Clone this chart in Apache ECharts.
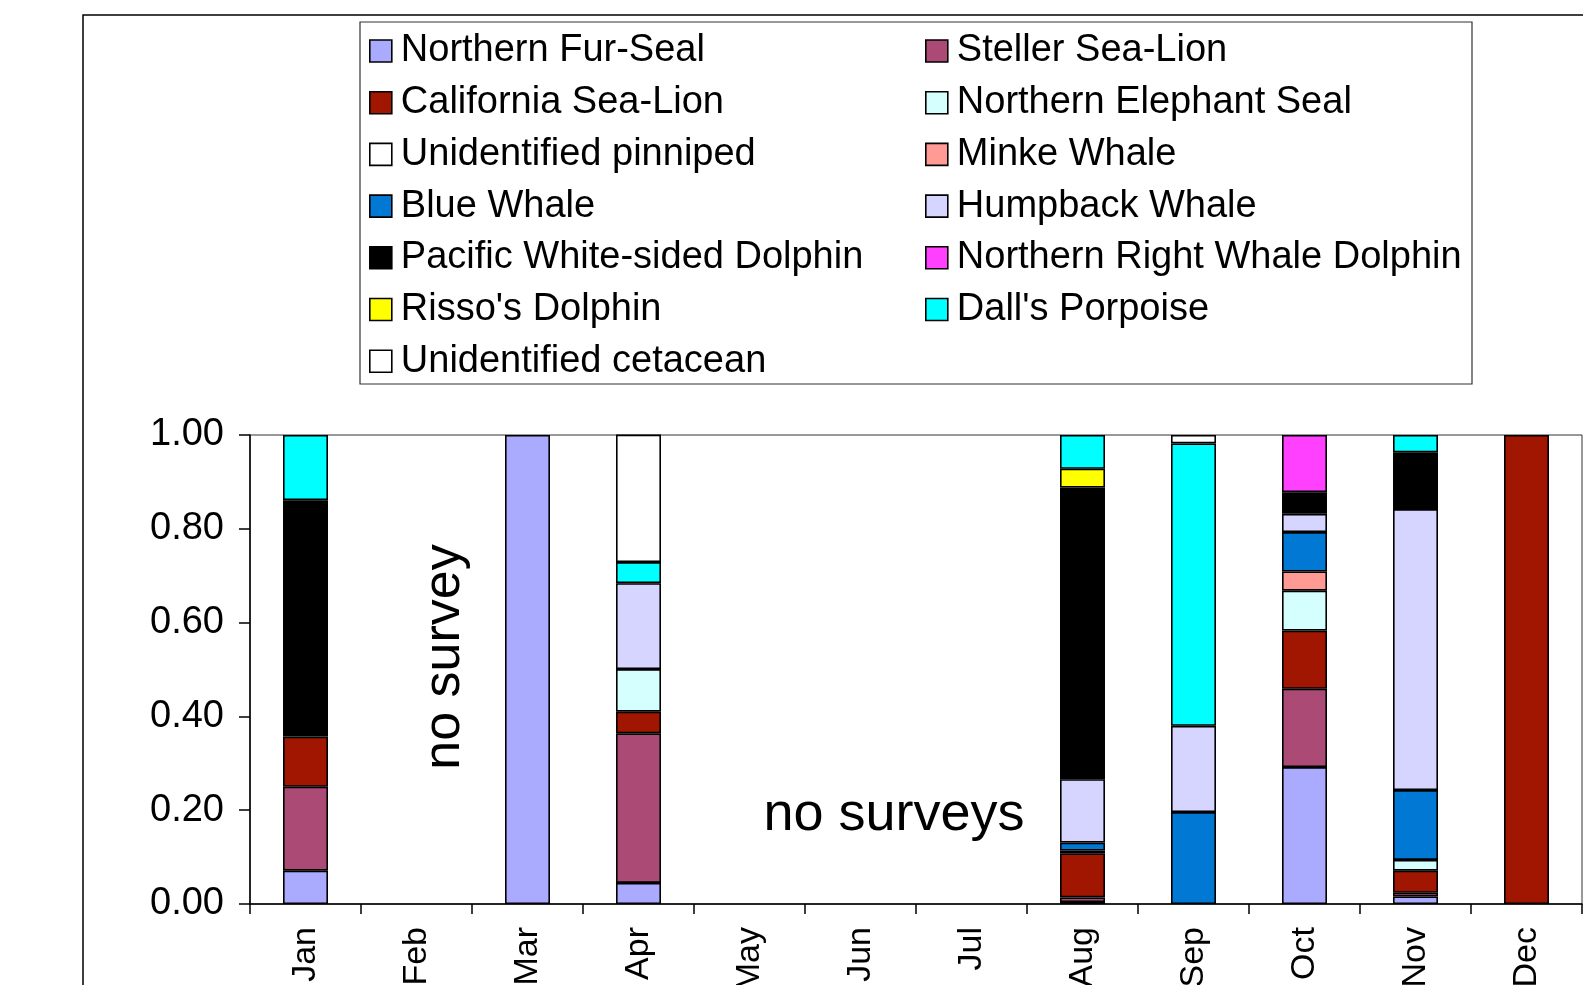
<!DOCTYPE html>
<html>
<head>
<meta charset="utf-8">
<title>Marine mammal sightings by month</title>
<script src="https://cdn.jsdelivr.net/npm/echarts@6/dist/echarts.min.js"></script>
<style>
  html, body { margin: 0; padding: 0; background: #fff; }
  #main { width: 1583px; height: 985px; }
</style>
</head>
<body>
<div id="main"></div>
<script>
// 月份
var months = ['Jan', 'Feb', 'Mar', 'Apr', 'May', 'Jun', 'Jul', 'Aug', 'Sep', 'Oct', 'Nov', 'Dec'];
var yTicks = [0, 0.2, 0.4, 0.6, 0.8, 1.0];

// 各物种比例 (null = 没有)
var furSeal      = [0.071, null, 1.0,  0.045, null, null, null, 0.004, null,  0.292, 0.016, null];
var steller      = [0.179, null, null, 0.319, null, null, null, 0.010, null,  0.167, 0.008, null];
var calSeaLion   = [0.107, null, null, 0.046, null, null, null, 0.094, null,  0.124, 0.047, 1.0];
var elephantSeal = [null,  null, null, 0.091, null, null, null, null,  null,  0.085, 0.023, null];
var unidPinniped = [null,  null, null, null,  null, null, null, 0.006, null,  null,  null,  null];
var minke        = [null,  null, null, null,  null, null, null, null,  null,  0.041, null,  null];
var blueWhale    = [null,  null, null, null,  null, null, null, 0.017, 0.196, 0.084, 0.149, null];
var humpback     = [null,  null, null, 0.183, null, null, null, 0.135, 0.184, 0.039, 0.599, null];
var pwsDolphin   = [0.504, null, null, null,  null, null, null, 0.622, null,  0.046, 0.121, null];
var nrwDolphin   = [null,  null, null, null,  null, null, null, null,  null,  0.122, null,  null];
var risso        = [null,  null, null, null,  null, null, null, 0.040, null,  null,  null,  null];
var dall         = [0.139, null, null, 0.045, null, null, null, 0.072, 0.602, null,  0.037, null];
var unidCetacean = [null,  null, null, 0.272, null, null, null, null,  0.018, null,  null,  null];

var names = ['Northern Fur-Seal', 'Steller Sea-Lion', 'California Sea-Lion', 'Northern Elephant Seal',
             'Unidentified pinniped', 'Minke Whale', 'Blue Whale', 'Humpback Whale',
             'Pacific White-sided Dolphin', 'Northern Right Whale Dolphin', "Risso's Dolphin",
             "Dall's Porpoise", 'Unidentified cetacean'];
var values = [furSeal, steller, calSeaLion, elephantSeal, unidPinniped, minke, blueWhale,
              humpback, pwsDolphin, nrwDolphin, risso, dall, unidCetacean];
var colors = ['#aaaaff', '#ab4a75', '#a11600', '#d5ffff', '#ffffff', '#ff9a94', '#0078d4',
              '#d5d5ff', '#000000', '#ff40ff', '#ffff00', '#00ffff', '#ffffff'];

var FONT = 'Liberation Sans, Arial, sans-serif';

var myChart = echarts.init(document.getElementById('main'));

var series = [];
for (var i = 0; i < names.length; i++) {
    series.push({
        name: names[i],
        type: 'bar',
        stack: 'all',
        barWidth: 45,
        data: values[i],
        itemStyle: { color: colors[i], borderColor: '#000', borderWidth: 1.6 }
    });
}

// 图例分两列，按行读
var leftNames = [], rightNames = [];
names.forEach(function (n, i) {
    if (i % 2 == 0) leftNames.push(n); else rightNames.push(n);
});

var legendBase = {
    orient: 'vertical',
    top: 32,
    padding: 0,
    itemGap: 13.7,
    itemWidth: 22,
    itemHeight: 22,
    icon: 'rect',
    selectedMode: false,
    itemStyle: { borderColor: '#000', borderWidth: 1.6 },
    textStyle: { fontFamily: FONT, fontSize: 38, color: '#000', lineHeight: 38, padding: [0, 0, 0, 4] }
};

var option = {
    animation: false,
    backgroundColor: '#fff',
    legend: [
        Object.assign({}, legendBase, { left: 369, data: leftNames }),
        Object.assign({}, legendBase, { left: 925, data: rightNames })
    ],
    grid: {
        left: 250,
        top: 435,
        right: 1,
        bottom: 81,
        outerBoundsMode: 'none',
        containLabel: false,
        show: true,
        borderColor: '#333',
        borderWidth: 1
    },
    xAxis: {
        type: 'category',
        data: months,
        axisLine: { lineStyle: { color: '#000', width: 1.5 } },
        axisTick: { show: true, length: 10, lineStyle: { color: '#000', width: 1.5 } },
        axisLabel: { rotate: 90, margin: 23, fontFamily: FONT, fontSize: 34, color: '#000' }
    },
    yAxis: {
        type: 'value',
        min: 0,
        max: 1,
        interval: 0.2,
        splitLine: { show: false },
        axisLine: { show: true, lineStyle: { color: '#000', width: 1.5 } },
        axisTick: { show: true, length: 11, lineStyle: { color: '#000', width: 1.5 } },
        axisLabel: {
            margin: 26,
            fontFamily: FONT,
            fontSize: 38,
            color: '#000',
            formatter: function (v) { return v.toFixed(2); }
        }
    },
    graphic: [
        {   // 外框
            type: 'rect',
            z: -10,
            shape: { x: 83, y: 15, width: 1600, height: 1100 },
            style: { fill: null, stroke: '#000', lineWidth: 1.5 }
        },
        {   // 图例框
            type: 'rect',
            z: -5,
            shape: { x: 360, y: 22, width: 1112, height: 362 },
            style: { fill: '#fff', stroke: '#333', lineWidth: 1.2 }
        },
        {
            type: 'text',
            x: 445,
            y: 657,
            rotation: Math.PI / 2,
            style: { text: 'no survey', font: '52px ' + FONT, fill: '#000', align: 'center', verticalAlign: 'middle' }
        },
        {
            type: 'text',
            x: 894,
            y: 815,
            style: { text: 'no surveys', font: '54px ' + FONT, fill: '#000', align: 'center', verticalAlign: 'middle' }
        }
    ],
    series: series
};

myChart.setOption(option);
</script>
</body>
</html>
